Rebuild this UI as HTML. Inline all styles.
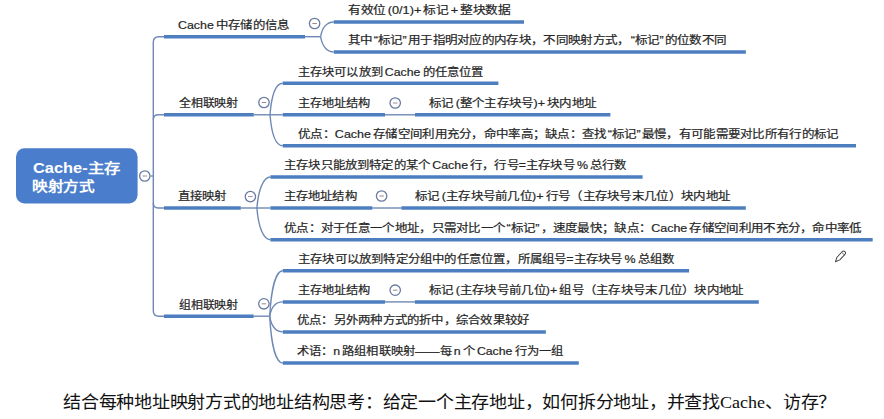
<!DOCTYPE html>
<html lang="zh-CN"><head><meta charset="utf-8"><style>
html,body{margin:0;padding:0;background:#fff;width:884px;height:419px;overflow:hidden}
svg{position:absolute;left:0;top:0}
.n,.r,.b{position:absolute;white-space:nowrap;line-height:1;transform-origin:0 0;font-family:"Liberation Sans",sans-serif;color:#262626}
.n{-webkit-text-stroke:0.2px #262626;word-spacing:-1.2px}
.r{color:#fff;font-weight:bold}
.q1{margin-left:1px}
.q2{margin-right:1px}
.b{font-family:"Liberation Serif",serif;color:#111}
</style></head><body>
<svg width="884" height="419" viewBox="0 0 884 419">
<rect x="16" y="148.3" width="121.6" height="55.099999999999994" rx="8.5" fill="#4a7ecc"/>
<path d="M153.3,176 V42.2 Q153.3,36.7 158.8,36.7 H164" fill="none" stroke="#6f88b5" stroke-width="1.4"/>
<path d="M153.3,176 V310.7 Q153.3,316.2 158.8,316.2 H164" fill="none" stroke="#6f88b5" stroke-width="1.4"/>
<path d="M153.3,119.8 Q153.3,114.8 158.3,114.8 H164" fill="none" stroke="#6f88b5" stroke-width="1.4"/>
<path d="M153.3,203.0 Q153.3,208.0 158.3,208.0 H164" fill="none" stroke="#6f88b5" stroke-width="1.4"/>
<path d="M150.8,176 H153.3" fill="none" stroke="#6f88b5" stroke-width="1.4"/>
<path d="M164,36.7 H305" stroke="#4d7ec0" stroke-width="3.5" stroke-linecap="butt"/>
<path d="M305,36.7 H320.6" stroke="#6f88b5" stroke-width="1.4"/>
<path d="M320.6,36.7 C322.1,27.880000000000003 326.8,22.0 333.8,22.0" fill="none" stroke="#6f88b5" stroke-width="1.4"/>
<path d="M333.8,22.0 H524" stroke="#4d7ec0" stroke-width="3.5" stroke-linecap="butt"/>
<path d="M320.6,36.7 C322.1,45.82 326.8,51.9 333.8,51.9" fill="none" stroke="#6f88b5" stroke-width="1.4"/>
<path d="M333.8,51.9 H745.9" stroke="#4d7ec0" stroke-width="3.5" stroke-linecap="butt"/>
<path d="M164,114.8 H253.8" stroke="#4d7ec0" stroke-width="3.5" stroke-linecap="butt"/>
<path d="M253.8,114.8 H270" stroke="#6f88b5" stroke-width="1.4"/>
<path d="M270,114.8 C271.5,95.9 275.8,83.3 282.8,83.3" fill="none" stroke="#6f88b5" stroke-width="1.4"/>
<path d="M282.8,83.3 H498.4" stroke="#4d7ec0" stroke-width="3.5" stroke-linecap="butt"/>
<path d="M270,114.8 C271.5,114.8 275.8,114.8 282.8,114.8" fill="none" stroke="#6f88b5" stroke-width="1.4"/>
<path d="M282.8,114.8 H385" stroke="#4d7ec0" stroke-width="3.5" stroke-linecap="butt"/>
<path d="M385,114.8 H415" stroke="#6f88b5" stroke-width="1.4"/>
<path d="M415,114.8 H610.4" stroke="#4d7ec0" stroke-width="3.5" stroke-linecap="butt"/>
<path d="M270,114.8 C271.5,133.4 275.8,145.8 282.8,145.8" fill="none" stroke="#6f88b5" stroke-width="1.4"/>
<path d="M282.8,145.8 H856" stroke="#4d7ec0" stroke-width="3.5" stroke-linecap="butt"/>
<path d="M164,208.0 H240.8" stroke="#4d7ec0" stroke-width="3.5" stroke-linecap="butt"/>
<path d="M240.8,208.0 H256.9" stroke="#6f88b5" stroke-width="1.4"/>
<path d="M256.9,208.0 C258.4,189.4 263.4,177.0 270.4,177.0" fill="none" stroke="#6f88b5" stroke-width="1.4"/>
<path d="M270.4,177.0 H642.6" stroke="#4d7ec0" stroke-width="3.5" stroke-linecap="butt"/>
<path d="M256.9,208.0 C258.4,208.0 263.4,208.0 270.4,208.0" fill="none" stroke="#6f88b5" stroke-width="1.4"/>
<path d="M270.4,208.0 H372.4" stroke="#4d7ec0" stroke-width="3.5" stroke-linecap="butt"/>
<path d="M372.4,208.0 H401.3" stroke="#6f88b5" stroke-width="1.4"/>
<path d="M401.3,208.0 H745.8" stroke="#4d7ec0" stroke-width="3.5" stroke-linecap="butt"/>
<path d="M256.9,208.0 C258.4,227.01999999999998 263.4,239.7 270.4,239.7" fill="none" stroke="#6f88b5" stroke-width="1.4"/>
<path d="M270.4,239.7 H872.7" stroke="#4d7ec0" stroke-width="3.5" stroke-linecap="butt"/>
<path d="M164,316.2 H253.7" stroke="#4d7ec0" stroke-width="3.5" stroke-linecap="butt"/>
<path d="M253.7,316.2 H269.7" stroke="#6f88b5" stroke-width="1.4"/>
<path d="M269.7,316.2 C271.2,288.96 275.8,270.8 282.8,270.8" fill="none" stroke="#6f88b5" stroke-width="1.4"/>
<path d="M282.8,270.8 H689.1" stroke="#4d7ec0" stroke-width="3.5" stroke-linecap="butt"/>
<path d="M269.7,316.2 C271.2,307.62 275.8,301.9 282.8,301.9" fill="none" stroke="#6f88b5" stroke-width="1.4"/>
<path d="M282.8,301.9 H385" stroke="#4d7ec0" stroke-width="3.5" stroke-linecap="butt"/>
<path d="M385,301.9 H414.9" stroke="#6f88b5" stroke-width="1.4"/>
<path d="M414.9,301.9 H758.8" stroke="#4d7ec0" stroke-width="3.5" stroke-linecap="butt"/>
<path d="M269.7,316.2 C271.2,325.62 275.8,331.9 282.8,331.9" fill="none" stroke="#6f88b5" stroke-width="1.4"/>
<path d="M282.8,331.9 H545.9" stroke="#4d7ec0" stroke-width="3.5" stroke-linecap="butt"/>
<path d="M269.7,316.2 C271.2,344.28 275.8,363.0 282.8,363.0" fill="none" stroke="#6f88b5" stroke-width="1.4"/>
<path d="M282.8,363.0 H578.8" stroke="#4d7ec0" stroke-width="3.5" stroke-linecap="butt"/>
<circle cx="314.6" cy="23.5" r="5.2" fill="#fff" stroke="#687ba0" stroke-width="1.3"/><path d="M312.3,23.5 H316.90000000000003" stroke="#9c8a94" stroke-width="1"/>
<circle cx="264" cy="102.5" r="5.2" fill="#fff" stroke="#687ba0" stroke-width="1.3"/><path d="M261.7,102.5 H266.3" stroke="#9c8a94" stroke-width="1"/>
<circle cx="395.2" cy="103" r="5.2" fill="#fff" stroke="#687ba0" stroke-width="1.3"/><path d="M392.9,103 H397.5" stroke="#9c8a94" stroke-width="1"/>
<circle cx="250.4" cy="196.6" r="5.2" fill="#fff" stroke="#687ba0" stroke-width="1.3"/><path d="M248.1,196.6 H252.70000000000002" stroke="#9c8a94" stroke-width="1"/>
<circle cx="381.6" cy="196" r="5.2" fill="#fff" stroke="#687ba0" stroke-width="1.3"/><path d="M379.3,196 H383.90000000000003" stroke="#9c8a94" stroke-width="1"/>
<circle cx="263.9" cy="303.8" r="5.2" fill="#fff" stroke="#687ba0" stroke-width="1.3"/><path d="M261.59999999999997,303.8 H266.2" stroke="#9c8a94" stroke-width="1"/>
<circle cx="395.2" cy="290.2" r="5.2" fill="#fff" stroke="#687ba0" stroke-width="1.3"/><path d="M392.9,290.2 H397.5" stroke="#9c8a94" stroke-width="1"/>
<circle cx="144.8" cy="176" r="5.2" fill="#fff" stroke="#687ba0" stroke-width="1.3"/><path d="M142.5,176 H147.10000000000002" stroke="#9c8a94" stroke-width="1"/>
<g transform="translate(835.4,261.8) rotate(-47)" fill="none" stroke="#444" stroke-width="0.95" stroke-linejoin="round"><path d="M0,0 L4.4,-1.95 H11.9 A1.95,1.95 0 0 1 11.9,1.95 H4.4 Z"/><path d="M11.2,-1.9 V1.9" stroke-width="0.7"/></g>
</svg>
<div class="r" style="left:33.09px;top:161.0px;font-size:14px;transform:scaleX(1.1698);">Cache-主存</div>
<div class="r" style="left:32.14px;top:178.6px;font-size:14px;transform:scaleX(1.1157);">映射方式</div>
<div class="n" style="left:178.49px;top:20px;font-size:11.2px;transform:scaleX(1.1084);">Cache 中存储的信息</div>
<div class="n" style="left:347.5px;top:5px;font-size:11.2px;transform:scaleX(1.1378);">有效位 (0/1)+ 标记 + 整块数据</div>
<div class="n" style="left:348.46px;top:35px;font-size:11.2px;transform:scaleX(1.1197);">其中<span class="q1">“</span>标记<span class="q2">”</span>用于指明对应的内存块，不同映射方式，<span class="q1">“</span>标记<span class="q2">”</span>的位数不同</div>
<div class="n" style="left:179.0px;top:98px;font-size:11.2px;transform:scaleX(1.0734);">全相联映射</div>
<div class="n" style="left:297.5px;top:67px;font-size:11.2px;transform:scaleX(1.1006);">主存块可以放到 Cache 的任意位置</div>
<div class="n" style="left:297.5px;top:98px;font-size:11.2px;transform:scaleX(1.0897);">主存地址结构</div>
<div class="n" style="left:429.01px;top:98px;font-size:11.2px;transform:scaleX(1.1169);">标记 (整个主存块号)+ 块内地址</div>
<div class="n" style="left:298.0px;top:129px;font-size:11.2px;transform:scaleX(1.1172);">优点：Cache 存储空间利用充分，命中率高；缺点：查找<span class="q1">“</span>标记<span class="q2">”</span>最慢，有可能需要对比所有行的标记</div>
<div class="n" style="left:178.0px;top:191px;font-size:11.2px;transform:scaleX(1.1002);">直接映射</div>
<div class="n" style="left:283.99px;top:160px;font-size:11.2px;transform:scaleX(1.1069);">主存块只能放到特定的某个 Cache 行，行号=主存块号 % 总行数</div>
<div class="n" style="left:284.0px;top:191px;font-size:11.2px;transform:scaleX(1.1018);">主存地址结构</div>
<div class="n" style="left:415.49px;top:191px;font-size:11.2px;transform:scaleX(1.1187);">标记 (主存块号前几位)+ 行号（主存块号末几位）块内地址</div>
<div class="n" style="left:284.01px;top:223px;font-size:11.2px;transform:scaleX(1.1178);">优点：对于任意一个地址，只需对比一个<span class="q1">“</span>标记<span class="q2">”</span>，速度最快；缺点：Cache 存储空间利用不充分，命中率低</div>
<div class="n" style="left:179.0px;top:300px;font-size:11.2px;transform:scaleX(1.0734);">组相联映射</div>
<div class="n" style="left:298.0px;top:254px;font-size:11.2px;transform:scaleX(1.1089);">主存块可以放到特定分组中的任意位置，所属组号=主存块号 % 总组数</div>
<div class="n" style="left:297.5px;top:285px;font-size:11.2px;transform:scaleX(1.0897);">主存地址结构</div>
<div class="n" style="left:429.0px;top:285px;font-size:11.2px;transform:scaleX(1.1161);">标记 (主存块号前几位)+ 组号（主存块号末几位）块内地址</div>
<div class="n" style="left:297.49px;top:315px;font-size:11.2px;transform:scaleX(1.1109);">优点：另外两种方式的折中，综合效果较好</div>
<div class="n" style="left:297.49px;top:346px;font-size:11.2px;transform:scaleX(1.1005);">术语：n 路组相联映射——每 n 个 Cache 行为一组</div>
<div class="b" style="left:63.0px;top:393.99px;font-size:17.3px;transform:scaleX(1.0444);">结合每种地址映射方式的地址结构思考：给定一个主存地址，如何拆分地址，并查找Cache、访存？</div>
</body></html>
